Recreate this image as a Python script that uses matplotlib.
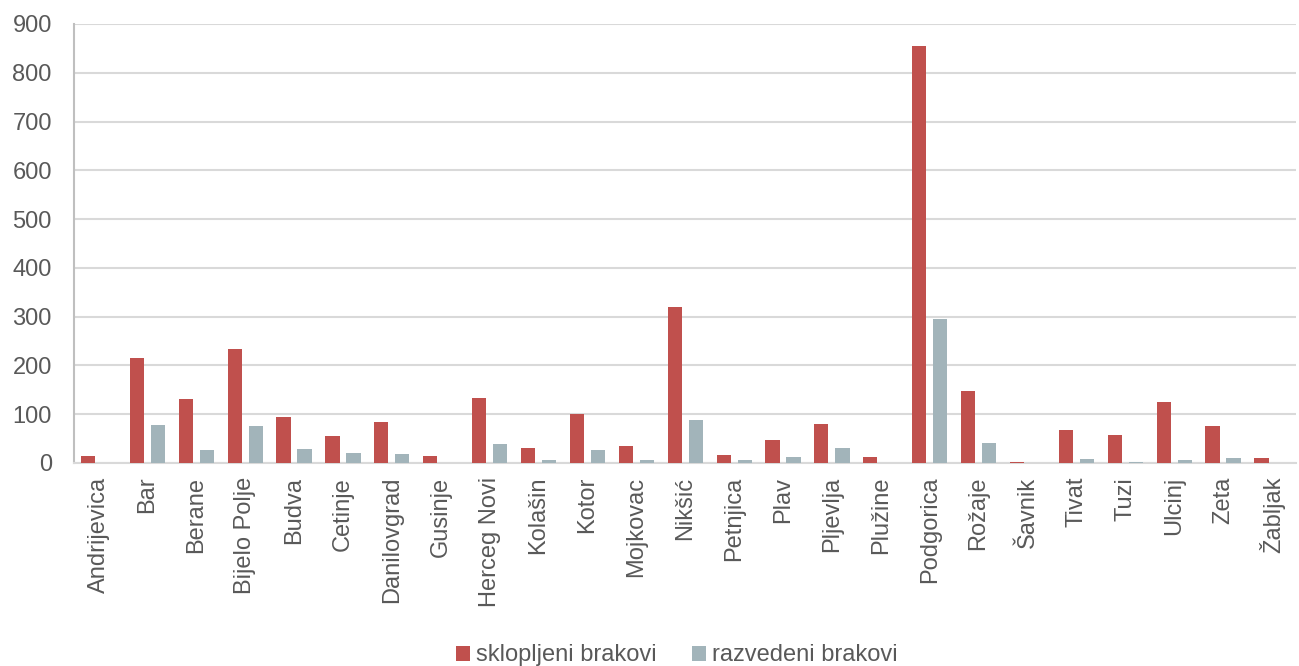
import matplotlib.pyplot as plt
import numpy as np

plt.rcParams['font.family'] = ['Liberation Sans', 'DejaVu Sans']

# ---------------------------
# Data
# ---------------------------
opstine = ["Andrijevica", "Bar", "Berane", "Bijelo Polje", "Budva", "Cetinje",
           "Danilovgrad", "Gusinje", "Herceg Novi", "Kolašin", "Kotor", "Mojkovac",
           "Nikšić", "Petnjica", "Plav", "Pljevlja", "Plužine", "Podgorica",
           "Rožaje", "Šavnik", "Tivat", "Tuzi", "Ulcinj", "Zeta", "Žabljak"]
sklopljeni = [14, 216, 131, 234, 95, 56, 84, 14, 132, 31, 101, 35,
              320, 16, 46, 80, 12, 855, 147, 1, 67, 58, 125, 75, 10]
razvedeni = [0, 78, 27, 75, 28, 20, 18, 0, 39, 6, 27, 6,
             88, 6, 12, 31, 0, 294, 40, 0, 8, 1, 5, 10, 0]

red = "#C0504D"
blue = "#A2B4BA"
txt = "#595959"
fs = 17

# ---------------------------
# Plot
# ---------------------------
fig = plt.figure(figsize=(12.99, 6.66), dpi=100)
ax = fig.add_axes([0.057, 0.305, 0.941, 0.659])

x = np.arange(len(opstine))
w = 0.29
ax.bar(x - 0.215, sklopljeni, w, color=red, label="sklopljeni brakovi", zorder=3)
ax.bar(x + 0.215, razvedeni, w, color=blue, label="razvedeni brakovi", zorder=3)

ax.set_xlim(-0.5, len(opstine) - 0.5)
ax.set_ylim(0, 900)
ax.set_yticks(range(0, 901, 100))
ax.set_xticks(x)
ax.set_xticklabels(opstine, rotation=90)
ax.tick_params(axis="both", length=0, labelsize=fs, colors=txt)
ax.tick_params(axis="y", pad=16)
ax.tick_params(axis="x", pad=10)
ax.grid(axis="y", color="#D9D9D9", linewidth=1.5, zorder=0)
for s in ["top", "right"]:
    ax.spines[s].set_visible(False)
ax.spines["left"].set_color("#BFBFBF")
ax.spines["bottom"].set_color("#D9D9D9")
ax.spines["left"].set_linewidth(1.5)
ax.spines["bottom"].set_linewidth(1.5)

leg = fig.legend(loc="center", bbox_to_anchor=(0.521, 0.016), ncol=2, frameon=False,
                 fontsize=fs, handlelength=0.6, handleheight=0.6, handletextpad=0.25,
                 columnspacing=1.5, borderpad=0)
for t in leg.get_texts():
    t.set_color(txt)

fig.savefig("out.png", dpi=100)
